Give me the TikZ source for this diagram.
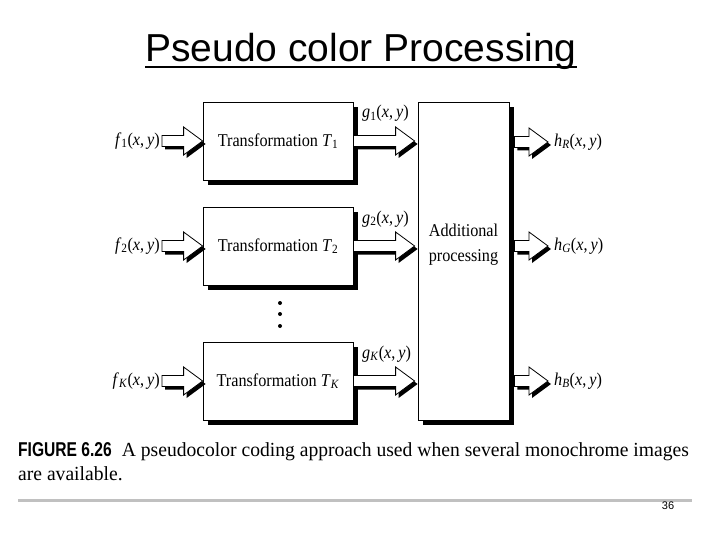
\documentclass[tikz,border=0pt]{standalone}
\usepackage{fontspec}
\setmainfont{Liberation Serif}
\newfontfamily\titlefont{Liberation Sans}
\newfontfamily\figserif[FakeStretch=0.9]{Liberation Serif}
\newfontfamily\capserif[FakeStretch=0.98]{Liberation Serif}
\newfontfamily\figsans[FakeStretch=0.78]{Liberation Sans}
\usepackage{tikz}
\usetikzlibrary{positioning,shadows,calc}
\definecolor{RuleGray}{HTML}{C0C0C0}

% signal label such as f_1(x, y)
\newcommand{\sig}[2]{\textit{#1}\textsubscript{#2}(\textit{x},\,\textit{y})}
% outline of a hollow block arrow, shifted by (#1,#2)
\newcommand{\arrowoutline}[2]{%
  ({\x1+#1},{\y1+5.5pt+#2}) -- ({\x2-19pt+#1},{\y1+5.5pt+#2})
  -- ({\x2-19pt+#1},{\y1+14pt+#2}) -- ({\x2+#1},{\y1+#2})
  -- ({\x2-19pt+#1},{\y1-14pt+#2}) -- ({\x2-19pt+#1},{\y1-5.5pt+#2})
  -- ({\x1+#1},{\y1-5.5pt+#2}) -- cycle}
% block arrow from #1 to #2 (height taken from #1)
\newcommand{\fatarrow}[2]{%
  \fill let \p1=(#1), \p2=(#2) in \arrowoutline{3pt}{-3pt};
  \filldraw[fill=white, line width=0.8pt, line join=miter]
    let \p1=(#1), \p2=(#2) in \arrowoutline{0pt}{0pt};}

\begin{document}
\begin{tikzpicture}[x=1pt, y=-1pt,
  tbox/.style={draw, fill=white, line width=0.8pt, minimum width=150pt,
               minimum height=78pt, inner sep=0pt,
               drop shadow={shadow xshift=5pt, shadow yshift=-5pt,
                            fill=black, opacity=1}},
  lbl/.style={inner sep=0pt, font=\figserif\fontsize{18}{25}\selectfont},
  dot/.style={circle, fill=black, inner sep=0pt, minimum size=4pt}
]
  \useasboundingbox (0,0) rectangle (720,540);

  % title
  \node[anchor=base, inner sep=0pt,
        font=\titlefont\fontsize{39}{44}\selectfont] (title) at (361,62)
    {Pseudo color Processing};
  \draw[line width=2pt] ([yshift=-5pt]title.base west)
    -- ([yshift=-5pt]title.base east);

  % transformation boxes
  \node[tbox, lbl] (t1) at (278,141) {Transformation \textit{T}\textsubscript{1}};
  \node[tbox, lbl] (t2) at (278,246) {Transformation \textit{T}\textsubscript{2}};
  \node[tbox, lbl] (tk) at (278,381) {Transformation \textit{T}\textsubscript{\textit{K}}};
  \node[dot] (d1) at (280,303) {};
  \node[dot] (d2) at (280,314) {};
  \node[dot] (d3) at (280,326) {};

  % additional processing
  \node[tbox, minimum width=91pt, minimum height=318pt] (proc) at (463.5,261) {};
  \node[lbl, align=center] (proctxt) at (463.5,245) {Additional\\processing};

  % inputs
  \node[lbl, anchor=east] (f1) at (160,141) {\sig{f}{1}};
  \node[lbl, anchor=east] (f2) at (160,246) {\sig{f}{2}};
  \node[lbl, anchor=east] (fk) at (160,381) {\sig{f}{\textit{K}}};
  \fatarrow{[xshift=2pt]f1.east}{t1.west}
  \fatarrow{[xshift=2pt]f2.east}{t2.west}
  \fatarrow{[xshift=2pt]fk.east}{tk.west}

  % intermediate outputs
  \coordinate (p1) at (proc.west |- t1);
  \coordinate (p2) at (proc.west |- t2);
  \coordinate (pk) at (proc.west |- tk);
  \fatarrow{t1.east}{[xshift=-3pt]p1}
  \fatarrow{t2.east}{[xshift=-3pt]p2}
  \fatarrow{tk.east}{[xshift=-3pt]pk}
  \node[lbl, anchor=base west] (g1) at (362,118) {\sig{g}{1}};
  \node[lbl, anchor=base west] (g2) at (362,223) {\sig{g}{2}};
  \node[lbl, anchor=base west] (gk) at (362,358) {\sig{g}{\textit{K}}};

  % final outputs
  \node[lbl, anchor=west] (hr) at (554,142) {\sig{h}{\textit{R}}};
  \node[lbl, anchor=west] (hg) at (554,246) {\sig{h}{\textit{G}}};
  \node[lbl, anchor=west] (hb) at (554,381) {\sig{h}{\textit{B}}};
  \fatarrow{[xshift=5pt]proc.east |- hr.west}{[xshift=-6pt]hr.west}
  \fatarrow{[xshift=5pt]proc.east |- hg.west}{[xshift=-6pt]hg.west}
  \fatarrow{[xshift=5pt]proc.east |- hb.west}{[xshift=-6pt]hb.west}

  % caption
  \node[anchor=base west, inner sep=0pt] (cap1) at (18,456)
    {\fontsize{20}{24}\selectfont{\figsans\bfseries FIGURE 6.26}\ \
     {\capserif A pseudocolor coding approach used when several monochrome images}};
  \node[anchor=base west, inner sep=0pt] (cap2) at (18,480)
    {\fontsize{20}{24}\selectfont\capserif are available.};
  \draw[RuleGray, line width=3pt] (18,500) -- (692,500);
  \node[font=\titlefont\fontsize{11}{12}\selectfont, inner sep=0pt]
    (page) at (668,506) {36};
\end{tikzpicture}
\end{document}
